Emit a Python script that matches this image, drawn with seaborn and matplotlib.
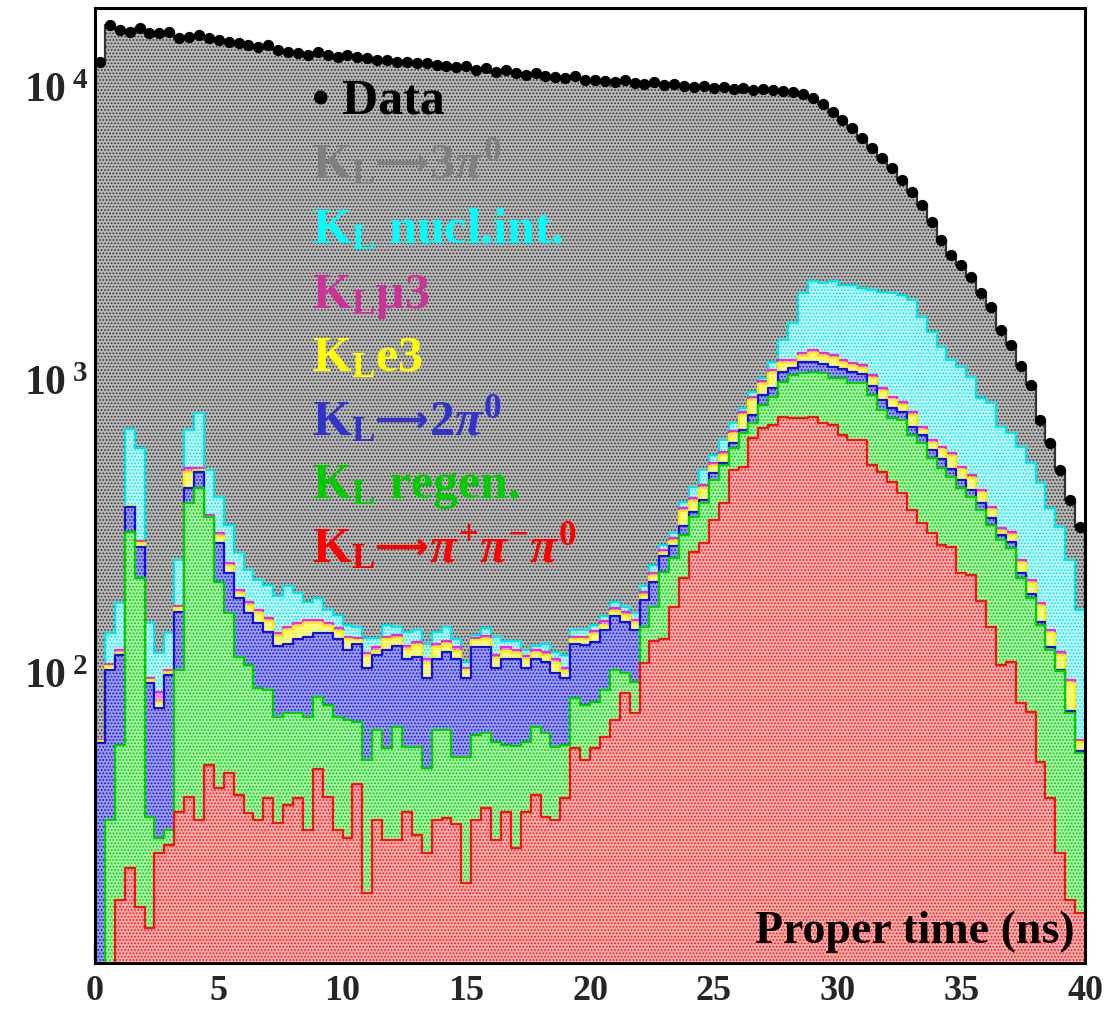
import numpy as np
import matplotlib
matplotlib.use("Agg")
import matplotlib.pyplot as plt
from matplotlib.ticker import (FixedLocator, FixedFormatter, LogLocator,
                               MultipleLocator, NullFormatter)
import seaborn as sns

# 100 bins of 0.4 ns between 0 and 40 ns
edges = np.linspace(0.0, 40.0, 101)
centers = 0.5 * (edges[:-1] + edges[1:])
bin_edges = edges.tolist()

# Observed events per bin
data_counts = [
    12270, 16400, 15780, 15530, 16030, 15410, 15410, 15530, 14820, 14930,
    15170, 14820, 14590, 14360, 14240, 14020, 13800, 14020, 13480, 13270,
    13170, 12960, 13270, 12960, 12760, 12960, 12760, 12660, 12460, 12460,
    12270, 12270, 12170, 12170, 11980, 11890, 11800, 11890, 11520, 11700,
    11340, 11520, 11250, 11080, 11250, 10990, 10900, 10820, 10990, 10650,
    10650, 10570, 10480, 10650, 10400, 10320, 10480, 10240, 10320, 10160,
    10080, 10160, 10000, 10080, 9920, 10000, 9840, 9920, 9840, 9770,
    9690, 9540, 9250, 8820, 8280, 7780, 7300, 6750, 6240, 5770,
    5330, 4850, 4420, 3990, 3490, 3030, 2690, 2490, 2270, 2000,
    1790, 1490, 1330, 1120, 970, 736, 614, 497, 393, 318,
]

# Monte Carlo stack, cumulative level reached by each component
# (K_L -> 3pi0 fills the remainder up to the data)
stack_pipipi0 = [
    0, 0, 16.9, 21.8, 16.0, 13.6, 24.5, 26.1, 33.8, 38.1,
    31.8, 48.9, 40.9, 45.9, 38.7, 33.5, 31.8, 37.8, 31.0, 35.7,
    37.8, 29.4, 47.4, 38.1, 29.4, 27.6, 42.1, 17.9, 31.8, 27.1,
    27.1, 33.8, 28.2, 24.5, 31.8, 32.3, 30.6, 19.3, 31.8, 34.9,
    27.1, 33.8, 25.5, 33.8, 38.7, 32.5, 31.8, 37.8, 55.9, 50.9,
    55.9, 61.0, 69.7, 86.1, 73.6, 109, 129, 131, 169, 213,
    260, 280, 336, 384, 497, 509, 639, 692, 708, 753,
    748, 748, 753, 720, 708, 654, 629, 629, 518, 487,
    450, 415, 363, 328, 303, 276, 270, 221, 218, 177,
    145, 107, 110, 79.6, 74.2, 50.1, 37.8, 24.5, 16.9, 15.3,
]
stack_regen = [
    0, 31.8, 57.1, 305, 213, 32.5, 27.6, 29.4, 103, 384,
    431, 343, 206, 161, 114, 107, 89.6, 88.2, 71.3, 73.6,
    73.6, 71.3, 83.5, 78.4, 71.3, 69.7, 68.6, 50.9, 64.4, 55.9,
    65.9, 56.3, 56.3, 47.8, 64.4, 64.4, 52.1, 52.1, 61.9, 62.9,
    58.6, 57.3, 56.8, 58.6, 65.9, 62.9, 56.3, 57.3, 82.8, 78.4,
    80.3, 88.2, 103, 101, 93.9, 144, 169, 223, 249, 298,
    343, 384, 459, 517, 590, 664, 719, 828, 882, 992,
    1048, 1065, 1073, 1065, 1024, 1024, 984, 984, 896, 796,
    748, 736, 654, 615, 546, 505, 470, 431, 402, 363,
    323, 287, 269, 213, 182, 147, 121, 102, 73.6, 53.7,
]
stack_2pi0 = [
    58.1, 103, 116, 371, 271, 93.2, 76.5, 99.2, 163, 431,
    489, 336, 280, 221, 182, 161, 149, 139, 124, 126,
    131, 134, 138, 138, 131, 121, 126, 105, 116, 121,
    124, 112, 114, 96.9, 112, 119, 112, 96.9, 123, 123,
    105, 112, 112, 105, 112, 110, 101, 96.9, 126, 125,
    128, 141, 158, 150, 141, 179, 206, 253, 273, 320,
    357, 393, 485, 525, 614, 681, 766, 896, 946, 1073,
    1108, 1161, 1161, 1143, 1116, 1099, 1073, 1057, 961, 861,
    809, 784, 697, 654, 581, 542, 501, 459, 425, 384,
    341, 298, 282, 221, 187, 150, 123, 103, 74.8, 54.6,
]
stack_e3 = [
    59.0, 106, 118, 373, 280, 95.4, 80.2, 101.6, 168, 490,
    497, 343, 295, 233, 189, 172, 161, 151, 135, 141,
    146, 149, 149, 146, 140, 131, 130, 115, 120, 131,
    133, 121, 125, 109, 123, 126, 120, 103, 130, 132,
    113, 120, 118, 112, 118, 116, 109, 102, 131, 131,
    137, 147, 164, 159, 149, 186, 216, 259, 284, 360,
    390, 431, 513, 559, 660, 767, 861, 977, 1065, 1152,
    1152, 1218, 1246, 1218, 1198, 1152, 1125, 1108, 1024, 925,
    861, 828, 767, 680, 614, 581, 554, 497, 467, 415,
    363, 308, 298, 239, 204, 171, 138, 116, 93.2, 58.6,
]
stack_mu3 = [
    59.5, 108, 121, 375, 283, 96.9, 86.8, 103, 171, 505,
    505, 349, 303, 239, 194, 176, 165, 155, 138, 144,
    149, 153, 153, 149, 143, 134, 133, 118, 123, 134,
    136, 124, 128, 112, 126, 129, 123, 105, 133, 135,
    116, 123, 121, 115, 121, 119, 112, 105, 134, 134,
    140, 151, 168, 162, 153, 191, 221, 265, 292, 369,
    399, 441, 525, 572, 675, 784, 882, 1000, 1090, 1179,
    1179, 1246, 1276, 1246, 1227, 1179, 1152, 1134, 1048, 947,
    882, 848, 784, 697, 629, 595, 567, 509, 478, 425,
    372, 315, 305, 245, 209, 175, 141, 119, 95.4, 59.5,
]
stack_nucl = [
    59.5, 138, 175, 685, 590, 149, 118, 138, 245, 680,
    777, 497, 402, 322, 259, 226, 209, 201, 184, 199,
    189, 176, 182, 165, 159, 147, 144, 133, 133, 147,
    144, 139, 141, 126, 139, 144, 131, 110, 136, 143,
    134, 129, 129, 121, 124, 126, 119, 116, 141, 141,
    147, 157, 176, 169, 161, 199, 236, 276, 303, 387,
    435, 497, 559, 629, 719, 809, 917, 1024, 1161, 1380,
    1578, 1997, 2195, 2160, 2195, 2127, 2127, 2078, 2045, 2013,
    1997, 1966, 1890, 1654, 1470, 1306, 1179, 1116, 1032, 875,
    841, 697, 664, 595, 525, 448, 369, 317, 245, 165,
]

sns.set_style("ticks")
plt.rcParams.update({
    "font.family": ["Liberation Serif", "DejaVu Serif"],
    "font.weight": "bold",
    "mathtext.fontset": "custom",
    "mathtext.rm": "Liberation Serif:bold",
    "mathtext.bf": "Liberation Serif:bold",
    "mathtext.it": "Liberation Serif:italic:bold",
    "mathtext.default": "rm",
    "hatch.linewidth": 0.8,
    "axes.linewidth": 2.2,
})

W, H = 1116, 1011
fig = plt.figure(figsize=(W / 100, H / 100), dpi=100)
fig.patch.set_facecolor("white")
ax = fig.add_axes([95 / W, 48 / H, 990 / W, 955 / H])
ax.set_yscale("log")
ax.set_facecolor("white")

# (level, face tint, dot/outline colour), drawn from the total down
layers = [
    (data_counts,   "#b8b8b8", "#333333"),
    (stack_nucl,    "#bff9f9", "#00e6e6"),
    (stack_mu3,     "#f9b6ee", "#ff22dd"),
    (stack_e3,      "#fbfb9a", "#f2f200"),
    (stack_2pi0,    "#9c9cf4", "#1010e8"),
    (stack_regen,   "#a6f2a6", "#00d000"),
    (stack_pipipi0, "#ffaeae", "#ff1010"),
]
for level, face, edge in layers:
    sns.histplot(x=centers, weights=np.asarray(level, dtype=float),
                 bins=bin_edges, element="step", fill=True,
                 facecolor=face, edgecolor=edge, linewidth=1.6,
                 hatch=".....", ax=ax)

sns.scatterplot(x=centers, y=data_counts, color="black", s=66,
                linewidth=0, marker="o", ax=ax, zorder=6)

ax.set_xlim(0, 40)
ax.set_ylim(10.3, 18750)
ax.set_xlabel("")
ax.set_ylabel("")

ax.xaxis.set_major_locator(MultipleLocator(5))
ax.xaxis.set_minor_locator(MultipleLocator(1))
ax.yaxis.set_major_locator(FixedLocator([1e2, 1e3, 1e4]))
ax.yaxis.set_major_formatter(FixedFormatter(
    [r"$10^{\;2}$", r"$10^{\;3}$", r"$10^{\;4}$"]))
ax.yaxis.set_minor_locator(LogLocator(base=10, subs=np.arange(2, 10)))
ax.yaxis.set_minor_formatter(NullFormatter())

ax.tick_params(axis="both", which="major", direction="in", length=14,
               width=1.6, top=False, right=False)
ax.tick_params(axis="both", which="minor", direction="in", length=7,
               width=1.4, top=False, right=False)
ax.tick_params(axis="x", which="major", pad=9, labelsize=26)
ax.tick_params(axis="y", which="major", pad=5, labelsize=30)
for lab in ax.get_xticklabels() + ax.get_yticklabels():
    lab.set_fontweight("bold")
for sp in ax.spines.values():
    sp.set_linewidth(2.2)
    sp.set_color("black")
    sp.set_zorder(10)

# Legend rows written as coloured text, assembled piece by piece so that the
# long arrow can come from a font that has it
renderer = fig.canvas.get_renderer()
ARROW = "\u27f6"
SERIF = dict(fontsize=36, fontweight="bold")
SANS = dict(fontsize=27, fontweight="bold", family="DejaVu Sans")
legend_rows = [
    ("black",   113, [("\u2022 Data", SERIF)]),
    ("#808080", 178, [(r"$\mathrm{K_L}$", SERIF), (ARROW, SANS),
                      (r"$\mathrm{3}\mathit{\pi}^{0}$", SERIF)]),
    ("#00ffff", 243, [(r"$\mathrm{K_L}$ nucl.int.", SERIF)]),
    ("#cc3399", 308, [(r"$\mathrm{K_L\mu3}$", SERIF)]),
    ("#ffff00", 371, [(r"$\mathrm{K_L}$e3", SERIF)]),
    ("#3333cc", 435, [(r"$\mathrm{K_L}$", SERIF), (ARROW, SANS),
                      (r"$\mathrm{2}\mathit{\pi}^{0}$", SERIF)]),
    ("#00cc00", 498, [(r"$\mathrm{K_L}$ regen.", SERIF)]),
    ("#ff0000", 562, [(r"$\mathrm{K_L}$", SERIF), (ARROW, SANS),
                      (r"$\mathit{\pi}^{+}\mathit{\pi}^{-}\mathit{\pi}^{0}$",
                       SERIF)]),
]
for color, y_base, parts in legend_rows:
    x_px = 312.0
    for s, kw in parts:
        dy = -3 if kw is SANS else 0
        t = fig.text(x_px / W, 1 - (y_base + dy) / H, s, color=color,
                     ha="left", va="baseline", zorder=20, **kw)
        x_px = t.get_window_extent(renderer=renderer).x1

fig.text(1075 / W, 1 - 943 / H, "Proper time (ns)", color="black",
         fontsize=33, fontweight="bold", ha="right", va="baseline", zorder=20)

fig.savefig("out.png", dpi=100, facecolor="white")
